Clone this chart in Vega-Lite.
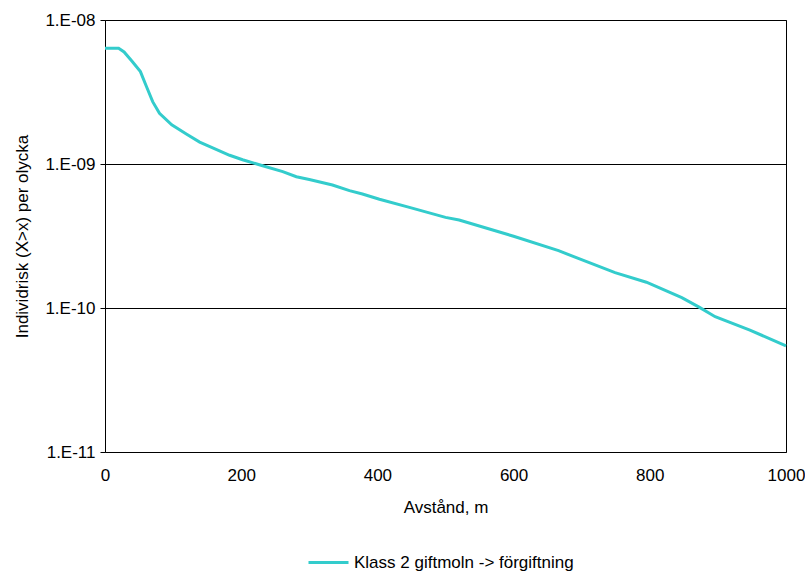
{
  "$schema": "https://vega.github.io/schema/vega-lite/v6.json",
  "width": 681,
  "height": 432,
  "autosize": {"type": "none"},
  "padding": {"left": 105, "top": 20, "right": 19, "bottom": 121},
  "background": "white",
  "config": {
    "font": "Liberation Sans",
    "view": {"stroke": "black", "strokeWidth": 1},
    "axis": {"labelFont": "Liberation Sans", "titleFont": "Liberation Sans", "labelColor": "black", "titleColor": "black", "titleFontWeight": "normal"}
  },
  "data": {
    "values": [
      {"d": 0, "r": 6.36e-9, "s": "Klass 2 giftmoln -> förgiftning"},
      {"d": 20, "r": 6.36e-9, "s": "Klass 2 giftmoln -> förgiftning"},
      {"d": 28, "r": 6.0e-9, "s": "Klass 2 giftmoln -> förgiftning"},
      {"d": 40, "r": 5.15e-9, "s": "Klass 2 giftmoln -> förgiftning"},
      {"d": 52, "r": 4.38e-9, "s": "Klass 2 giftmoln -> förgiftning"},
      {"d": 61, "r": 3.44e-9, "s": "Klass 2 giftmoln -> förgiftning"},
      {"d": 70, "r": 2.71e-9, "s": "Klass 2 giftmoln -> förgiftning"},
      {"d": 80, "r": 2.25e-9, "s": "Klass 2 giftmoln -> förgiftning"},
      {"d": 98, "r": 1.87e-9, "s": "Klass 2 giftmoln -> förgiftning"},
      {"d": 120, "r": 1.61e-9, "s": "Klass 2 giftmoln -> förgiftning"},
      {"d": 139, "r": 1.42e-9, "s": "Klass 2 giftmoln -> förgiftning"},
      {"d": 159, "r": 1.29e-9, "s": "Klass 2 giftmoln -> förgiftning"},
      {"d": 183, "r": 1.15e-9, "s": "Klass 2 giftmoln -> förgiftning"},
      {"d": 202, "r": 1.07e-9, "s": "Klass 2 giftmoln -> förgiftning"},
      {"d": 229, "r": 9.8e-10, "s": "Klass 2 giftmoln -> förgiftning"},
      {"d": 261, "r": 8.85e-10, "s": "Klass 2 giftmoln -> förgiftning"},
      {"d": 281, "r": 8.16e-10, "s": "Klass 2 giftmoln -> förgiftning"},
      {"d": 300, "r": 7.8e-10, "s": "Klass 2 giftmoln -> förgiftning"},
      {"d": 334, "r": 7.15e-10, "s": "Klass 2 giftmoln -> förgiftning"},
      {"d": 359, "r": 6.53e-10, "s": "Klass 2 giftmoln -> förgiftning"},
      {"d": 378, "r": 6.19e-10, "s": "Klass 2 giftmoln -> förgiftning"},
      {"d": 403, "r": 5.69e-10, "s": "Klass 2 giftmoln -> förgiftning"},
      {"d": 447, "r": 5.0e-10, "s": "Klass 2 giftmoln -> förgiftning"},
      {"d": 500, "r": 4.26e-10, "s": "Klass 2 giftmoln -> förgiftning"},
      {"d": 520, "r": 4.08e-10, "s": "Klass 2 giftmoln -> förgiftning"},
      {"d": 600, "r": 3.15e-10, "s": "Klass 2 giftmoln -> förgiftning"},
      {"d": 666, "r": 2.5e-10, "s": "Klass 2 giftmoln -> förgiftning"},
      {"d": 695, "r": 2.21e-10, "s": "Klass 2 giftmoln -> förgiftning"},
      {"d": 749, "r": 1.76e-10, "s": "Klass 2 giftmoln -> förgiftning"},
      {"d": 795, "r": 1.51e-10, "s": "Klass 2 giftmoln -> förgiftning"},
      {"d": 847, "r": 1.18e-10, "s": "Klass 2 giftmoln -> förgiftning"},
      {"d": 873, "r": 1.01e-10, "s": "Klass 2 giftmoln -> förgiftning"},
      {"d": 896, "r": 8.7e-11, "s": "Klass 2 giftmoln -> förgiftning"},
      {"d": 947, "r": 7.03e-11, "s": "Klass 2 giftmoln -> förgiftning"},
      {"d": 1000, "r": 5.45e-11, "s": "Klass 2 giftmoln -> förgiftning"}
    ]
  },
  "mark": {"type": "line", "strokeWidth": 3, "interpolate": "linear"},
  "encoding": {
    "x": {
      "field": "d",
      "type": "quantitative",
      "scale": {"domain": [0, 1000], "nice": false, "zero": false},
      "axis": {
        "title": "Avstånd, m",
        "values": [0, 200, 400, 600, 800, 1000],
        "format": "d",
        "grid": false,
        "ticks": false,
        "domain": false,
        "labelPadding": 15,
        "labelFontSize": 17,
        "titleFontSize": 17,
        "titlePadding": 16,
        "labelFlush": false
      }
    },
    "y": {
      "field": "r",
      "type": "quantitative",
      "scale": {"type": "log", "domain": [1e-11, 1e-8], "nice": false},
      "axis": {
        "title": "Individrisk (X>x) per olycka",
        "values": [1e-11, 1e-10, 1e-9, 1e-8],
        "labelExpr": "'1.E-' + (-round(log(datum.value)/LN10) < 10 ? '0' : '') + (-round(log(datum.value)/LN10))",
        "grid": true,
        "gridColor": "black",
        "gridOpacity": 1,
        "gridWidth": 1,
        "domain": false,
        "tickColor": "black",
        "tickSize": 5,
        "labelPadding": 5,
        "labelFontSize": 17,
        "titleFontSize": 17,
        "titlePadding": 13,
        "labelFlush": false
      }
    },
    "color": {
      "field": "s",
      "type": "nominal",
      "scale": {"range": ["#33CCCC"]},
      "legend": {
        "title": null,
        "orient": "none",
        "legendX": 202,
        "legendY": 521,
        "direction": "horizontal",
        "symbolType": "stroke",
        "symbolStrokeWidth": 3,
        "symbolSize": 1600,
        "labelFontSize": 17,
        "labelLimit": 500,
        "labelColor": "black",
        "labelFont": "Liberation Sans",
        "labelOffset": 4,
        "padding": 0
      }
    }
  }
}
